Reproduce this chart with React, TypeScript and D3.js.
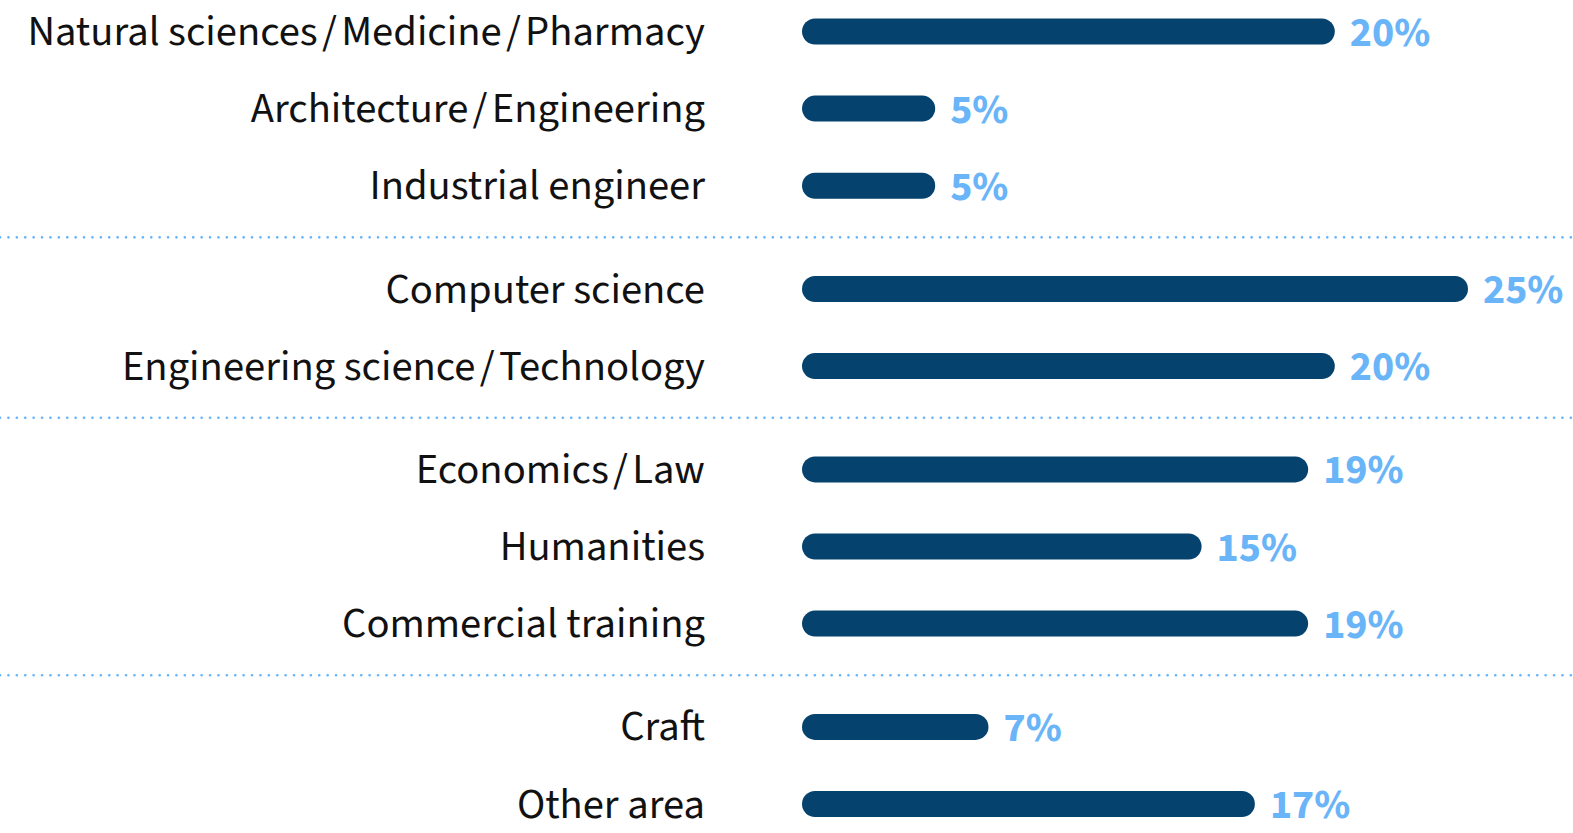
import React, { useEffect, useRef } from 'react';
import { scaleLinear, select } from 'd3';

// categories, grouped the way the reference separates them with dotted rules
const categories = [
    'Natural sciences\u2009/\u2009Medicine\u2009/\u2009Pharmacy',
    'Architecture\u2009/\u2009Engineering',
    'Industrial engineer',
    'Computer science',
    'Engineering science\u2009/\u2009Technology',
    'Economics\u2009/\u2009Law',
    'Humanities',
    'Commercial training',
    'Craft',
    'Other area',
];
const groups = [0, 0, 0, 1, 1, 2, 2, 2, 3, 3];
const values = [20, 5, 5, 25, 20, 19, 15, 19, 7, 17];

const width = 1573;
const height = 833;

const App = () => {
    const svgRef = useRef<SVGSVGElement>(null);

    useEffect(() => {
        const svg = select(svgRef.current)
            .attr('width', width)
            .attr('height', height);

        svg.selectAll('*').remove();

        const barH = 26;
        const gapExtra = 0.34; // extra slot space between groups

        const xScale = scaleLinear().domain([0, 25]).range([802, 1468]);
        // slot = row index + group offset
        const slot = (i: number) => i + groups[i] * gapExtra;
        const yScale = scaleLinear()
            .domain([0, slot(categories.length - 1)])
            .range([31.5, 804]);

        const fontFamily = "'Source Sans Pro', 'Source Sans 3', sans-serif";

        // dotted separators between groups
        const seps: number[] = [];
        for (let i = 1; i < categories.length; i++) {
            if (groups[i] !== groups[i - 1]) seps.push((yScale(slot(i - 1)) + yScale(slot(i))) / 2);
        }
        svg.selectAll('line.sep')
            .data(seps)
            .enter().append('line')
                .attr('class', 'sep')
                .attr('x1', 0)
                .attr('x2', width)
                .attr('y1', d => d)
                .attr('y2', d => d)
                .attr('stroke', '#6ab4f8')
                .attr('stroke-width', 2.6)
                .attr('stroke-linecap', 'round')
                .attr('stroke-dasharray', '0.1 8.3');

        const rows = svg.selectAll('g.row')
            .data(values)
            .enter().append('g')
                .attr('class', 'row')
                .attr('transform', (d, i) => `translate(0, ${yScale(slot(i))})`);

        rows.append('text')
            .attr('x', 705)
            .attr('y', 13.5)
            .attr('text-anchor', 'end')
            .style('font-family', fontFamily)
            .style('font-size', '42.6px')
            .style('fill', '#111')
            .text((d, i) => categories[i]);

        rows.append('rect')
            .attr('x', xScale(0))
            .attr('y', -barH / 2)
            .attr('height', barH)
            .attr('width', d => xScale(d) - xScale(0))
            .attr('rx', barH / 2)
            .attr('ry', barH / 2)
            .style('fill', '#05426e');

        rows.append('text')
            .attr('x', d => xScale(d) + 15)
            .attr('y', 14)
            .style('font-family', fontFamily)
            .style('font-size', '42px')
            .style('font-weight', 700)
            .style('fill', '#6ab4f8')
            .text(d => `${d}%`);
    }, []);

    return (
        <svg ref={svgRef} style={{ position: 'fixed', left: 0, top: 0, background: '#fff' }}>
        </svg>
    );
};

export default App;
